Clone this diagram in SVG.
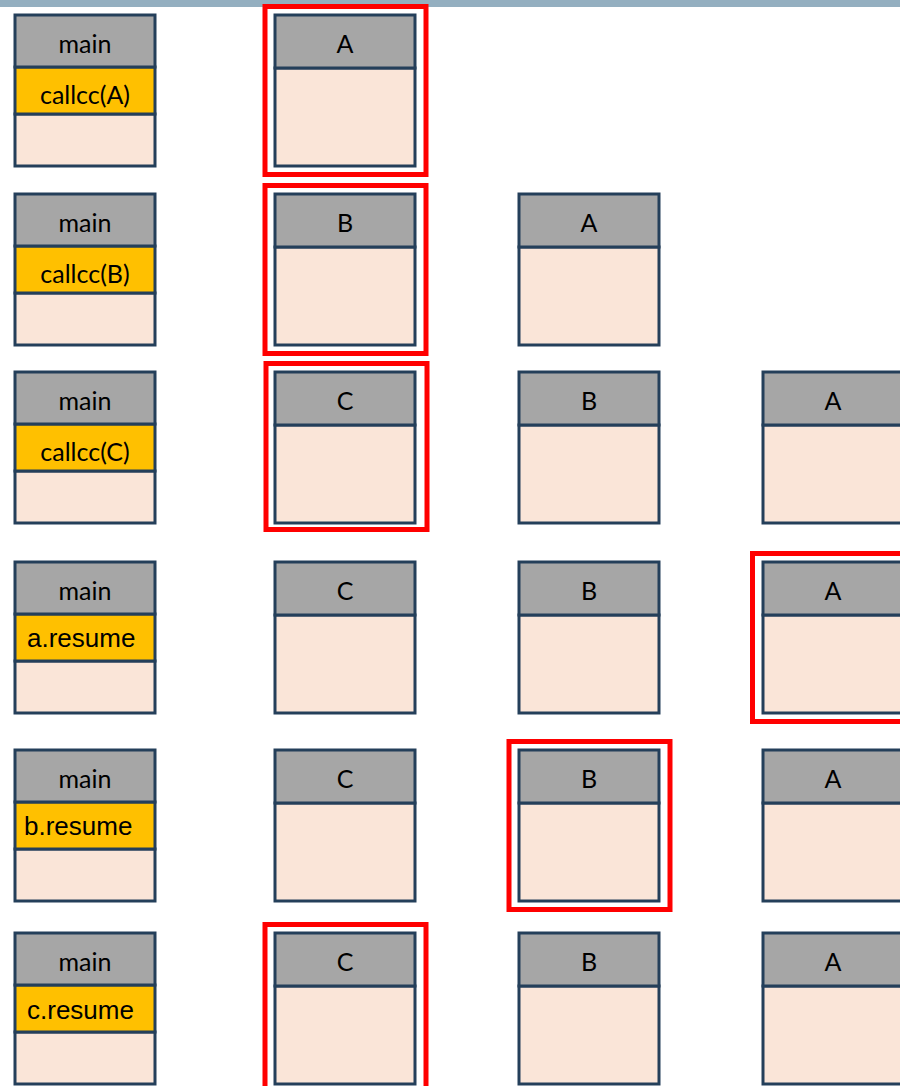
<svg xmlns="http://www.w3.org/2000/svg" width="900" height="1086" viewBox="0 0 900 1086">
<style>
.hd{fill:#a6a6a6;stroke:#243f5a;stroke-width:3}
.bd{fill:#fae5d8;stroke:#243f5a;stroke-width:3}
.yl{fill:#ffc000;stroke:#243f5a;stroke-width:3}
.hl{fill:none;stroke:#ff0000;stroke-width:5}
.t{font-family:Lato,"Open Sans",sans-serif;font-size:25px;fill:#000;text-anchor:middle}
.r{font-family:"Liberation Sans",Arial,sans-serif;font-size:26px;fill:#000}
</style>
<rect x="0" y="0" width="900" height="7" fill="#94afc0"/>
<defs>
<g id="mainbox">
<rect class="bd" x="0" y="99" width="140" height="52"/>
<rect class="yl" x="0" y="52" width="140" height="47"/>
<rect class="hd" x="0" y="0" width="140" height="52"/>
</g>
<g id="frame">
<rect class="bd" x="0" y="53" width="140" height="98"/>
<rect class="hd" x="0" y="0" width="140" height="53"/>
</g>
</defs>

<!-- Row 1 -->
<g id="r1-main" transform="translate(15,15)"><use href="#mainbox"/><text class="t" x="70" y="38">main</text><text class="t" x="70" y="89">callcc(A)</text></g>
<g id="r1-A" transform="translate(275,15)"><use href="#frame"/><text class="t" x="70" y="38">A</text></g>

<!-- Row 2 -->
<g id="r2-main" transform="translate(15,194)"><use href="#mainbox"/><text class="t" x="70" y="38">main</text><text class="t" x="70" y="89">callcc(B)</text></g>
<g id="r2-B" transform="translate(275,194)"><use href="#frame"/><text class="t" x="70" y="38">B</text></g>
<g id="r2-A" transform="translate(519,194)"><use href="#frame"/><text class="t" x="70" y="38">A</text></g>

<!-- Row 3 -->
<g id="r3-main" transform="translate(15,372)"><use href="#mainbox"/><text class="t" x="70" y="38">main</text><text class="t" x="70" y="89">callcc(C)</text></g>
<g id="r3-C" transform="translate(275,372)"><use href="#frame"/><text class="t" x="70" y="38">C</text></g>
<g id="r3-B" transform="translate(519,372)"><use href="#frame"/><text class="t" x="70" y="38">B</text></g>
<g id="r3-A" transform="translate(763,372)"><use href="#frame"/><text class="t" x="70" y="38">A</text></g>

<!-- Row 4 -->
<g id="r4-main" transform="translate(15,562)"><use href="#mainbox"/><text class="t" x="70" y="38">main</text><text class="r" x="12" y="85">a.resume</text></g>
<g id="r4-C" transform="translate(275,562)"><use href="#frame"/><text class="t" x="70" y="38">C</text></g>
<g id="r4-B" transform="translate(519,562)"><use href="#frame"/><text class="t" x="70" y="38">B</text></g>
<g id="r4-A" transform="translate(763,562)"><use href="#frame"/><text class="t" x="70" y="38">A</text></g>

<!-- Row 5 -->
<g id="r5-main" transform="translate(15,750)"><use href="#mainbox"/><text class="t" x="70" y="38">main</text><text class="r" x="9" y="85">b.resume</text></g>
<g id="r5-C" transform="translate(275,750)"><use href="#frame"/><text class="t" x="70" y="38">C</text></g>
<g id="r5-B" transform="translate(519,750)"><use href="#frame"/><text class="t" x="70" y="38">B</text></g>
<g id="r5-A" transform="translate(763,750)"><use href="#frame"/><text class="t" x="70" y="38">A</text></g>

<!-- Row 6 -->
<g id="r6-main" transform="translate(15,933)"><use href="#mainbox"/><text class="t" x="70" y="38">main</text><text class="r" x="12" y="86">c.resume</text></g>
<g id="r6-C" transform="translate(275,933)"><use href="#frame"/><text class="t" x="70" y="38">C</text></g>
<g id="r6-B" transform="translate(519,933)"><use href="#frame"/><text class="t" x="70" y="38">B</text></g>
<g id="r6-A" transform="translate(763,933)"><use href="#frame"/><text class="t" x="70" y="38">A</text></g>

<!-- Highlights -->
<g id="highlights">
<rect class="hl" x="265" y="6.5" width="161" height="168"/>
<rect class="hl" x="265" y="185.5" width="161" height="168"/>
<rect class="hl" x="266" y="363.5" width="161" height="166"/>
<rect class="hl" x="752.5" y="553.5" width="161" height="168"/>
<rect class="hl" x="509" y="741.5" width="161" height="168"/>
<rect class="hl" x="265" y="924.5" width="161" height="168"/>
</g>
</svg>
